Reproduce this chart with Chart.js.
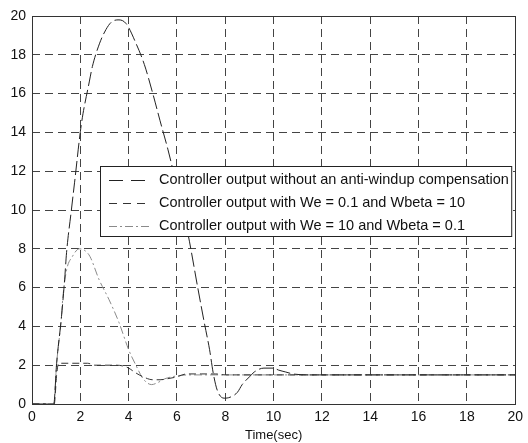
<!DOCTYPE html>
<html>
<head>
<meta charset="utf-8">
<script src="https://cdn.jsdelivr.net/npm/chart.js@4/dist/chart.umd.min.js"></script>
<style>
html,body{margin:0;padding:0;background:#fff;}
#wrap{width:528px;height:443px;}
</style>
</head>
<body>
<div id="wrap"><canvas id="c" width="528" height="443"></canvas></div>
<script>
// Series 1: without anti-windup
const t1 = [0,0.9,1.02,1.22,1.35,1.43,1.63,1.76,2.04,2.37,2.5,2.8,3.06,3.3,3.6,3.9,4.3,4.65,5.0,5.3,5.63,6.0,6.45,6.86,7.13,7.35,7.5,7.67,7.95,8.2,8.5,8.7,9.0,9.2,9.6,10.0,10.2,10.5,10.8,11.5,12.5,14,16,18,20];
const v1 = [0,0,2.1,4.5,6.4,7.8,10,11.4,14.4,16.6,17.4,18.6,19.3,19.7,19.8,19.6,18.6,17.5,16.0,14.6,13.1,11.2,8.8,6.0,4.2,2.8,1.6,0.7,0.3,0.35,0.6,1.0,1.4,1.65,1.85,1.85,1.75,1.65,1.55,1.5,1.5,1.5,1.5,1.5,1.5];
// Series 2: We = 0.1, Wbeta = 10
const t2 = [0,0.92,1.02,1.1,1.5,2.0,2.3,2.6,3.0,3.5,3.8,4.0,4.3,4.6,5.0,5.3,5.6,6.0,6.4,7.0,7.6,8.0,10,12,14,16,18,20];
const v2 = [0,0,1.5,2.1,2.1,2.1,2.1,2.0,2.0,2.0,1.95,1.85,1.6,1.4,1.25,1.25,1.3,1.4,1.55,1.55,1.55,1.5,1.5,1.5,1.5,1.5,1.5,1.5];
// Series 3: We = 10, Wbeta = 0.1
const t3 = [0,0.9,1.02,1.22,1.27,1.43,1.67,1.96,2.2,2.4,2.78,3.18,3.6,4.0,4.3,4.6,4.95,5.2,5.5,6.0,6.5,7,8,10,12,14,16,18,20];
const v3 = [0,0,2.1,4.5,5.4,6.9,7.6,8.0,7.9,7.6,6.4,5.4,4.2,2.8,2.0,1.3,1.0,1.1,1.3,1.45,1.5,1.5,1.5,1.5,1.5,1.5,1.5,1.5,1.5];

const xTicks = [0,2,4,6,8,10,12,14,16,18,20];
const yTicks = [0,2,4,6,8,10,12,14,16,18,20];
const labels = [
  'Controller output without an anti-windup compensation',
  'Controller output with We = 0.1 and Wbeta = 10',
  'Controller output with We = 10 and Wbeta = 0.1'
];
const xTitle = 'Time(sec)';

const FONT = '"Liberation Sans", Arial, sans-serif';
const pts = (t, v) => t.map((x, i) => ({x: x, y: v[i]}));
const styles = [
  {color:'#222', dash:[14,4]},
  {color:'#333', dash:[7,4]},
  {color:'#8a8a8a', dash:[8,3,2,3]}
];

const legendPlugin = {
  id: 'boxLegend',
  afterDraw(chart) {
    const ctx = chart.ctx;
    const a = chart.chartArea;
    const left = 100, right = a.right - 4;
    const top = 166, bottom = 236;
    ctx.save();
    ctx.fillStyle = '#fff';
    ctx.fillRect(left, top, right - left, bottom - top);
    ctx.strokeStyle = '#222';
    ctx.lineWidth = 1;
    ctx.setLineDash([]);
    ctx.strokeRect(left + 0.5, top + 0.5, right - left, bottom - top);
    ctx.font = '14.5px ' + FONT;
    ctx.textBaseline = 'middle';
    labels.forEach((lab, i) => {
      const y = top + 14 + i * 23;
      ctx.strokeStyle = styles[i].color;
      ctx.setLineDash(i === 0 ? [14,8] : (i === 1 ? [8,6] : [8,3,2,3]));
      ctx.beginPath();
      ctx.moveTo(left + 9, Math.round(y)+0.5);
      ctx.lineTo(left + 51, Math.round(y)+0.5);
      ctx.stroke();
      ctx.setLineDash([]);
      ctx.fillStyle = '#111';
      ctx.fillText(lab, left + 59, y);
    });
    ctx.restore();
  }
};

const borderPlugin = {
  id: 'frame',
  afterDatasetsDraw(chart) {
    const a = chart.chartArea, ctx = chart.ctx;
    ctx.save();
    ctx.strokeStyle = '#333';
    ctx.lineWidth = 1;
    ctx.setLineDash([]);
    ctx.strokeRect(Math.round(a.left)+0.5, Math.round(a.top)+0.5, Math.round(a.right-a.left), Math.round(a.bottom-a.top));
    ctx.restore();
  }
};

new Chart(document.getElementById('c'), {
  type: 'line',
  data: {
    datasets: [
      {label: labels[0], data: pts(t1, v1)},
      {label: labels[1], data: pts(t2, v2)},
      {label: labels[2], data: pts(t3, v3)}
    ].map((d, i) => Object.assign(d, {
      borderColor: styles[i].color,
      borderDash: styles[i].dash,
      borderWidth: 1,
      pointRadius: 0,
      fill: false,
      cubicInterpolationMode: 'monotone'
    }))
  },
  options: {
    responsive: false,
    animation: false,
    layout: {padding: {top: 16, right: 6, left: 0, bottom: 0}},
    plugins: {legend: {display: false}, tooltip: {enabled: false}},
    scales: {
      x: {
        type: 'linear', min: 0, max: 20,
        afterBuildTicks: s => { s.ticks = xTicks.map(v => ({value: v})); },
        afterFit: s => { s.height = 39; },
        grid: {color: '#444', lineWidth: 1, drawTicks: false},
        border: {display: false, dash: [8,5]},
        ticks: {color: '#111', font: {family: FONT, size: 14}, padding: 5, maxRotation: 0},
        title: {display: true, text: xTitle, color: '#111', font: {family: FONT, size: 13}, padding: {top: 0, bottom: 0}}
      },
      y: {
        type: 'linear', min: 0, max: 20,
        afterBuildTicks: s => { s.ticks = yTicks.map(v => ({value: v})); },
        afterFit: s => { s.width = 32; },
        grid: {color: '#444', lineWidth: 1, drawTicks: false},
        border: {display: false, dash: [8,5]},
        ticks: {color: '#111', font: {family: FONT, size: 14}, padding: 6}
      }
    }
  },
  plugins: [borderPlugin, legendPlugin]
});
</script>
</body>
</html>
